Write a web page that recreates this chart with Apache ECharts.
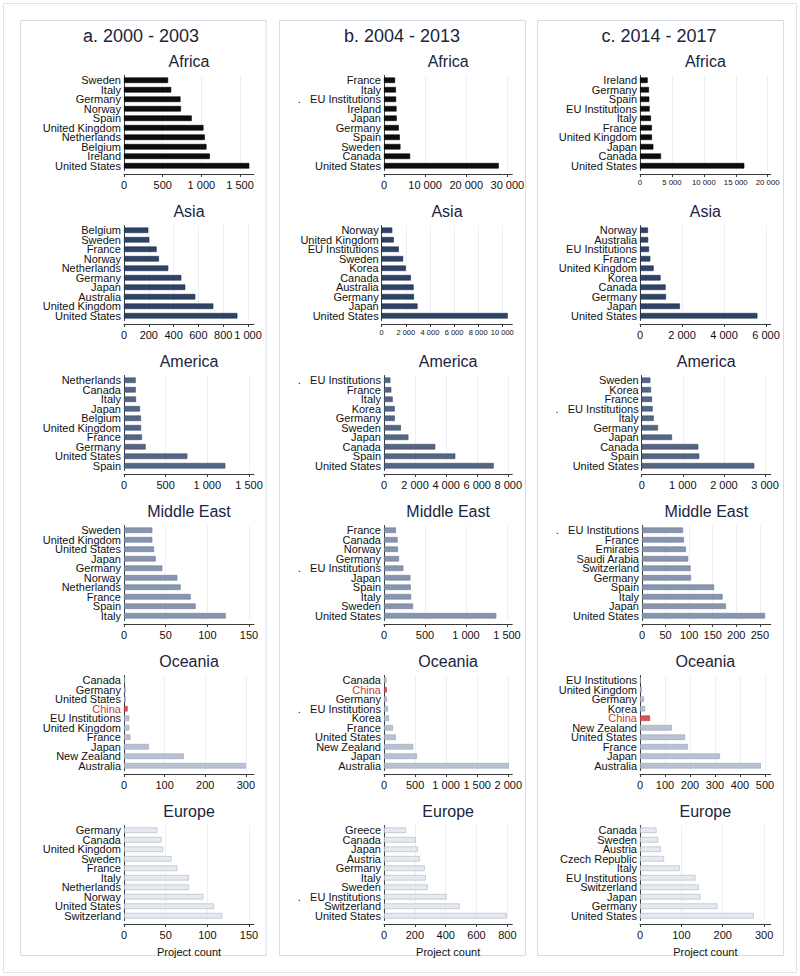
<!DOCTYPE html>
<html><head><meta charset="utf-8">
<script src="https://cdn.jsdelivr.net/npm/echarts@6/dist/echarts.min.js"></script>
<style>html,body{margin:0;padding:0;background:#fff}#c{width:800px;height:976px}</style>
</head><body><div id="c"></div>
<script>
// ---------- DATA ----------
const periods = ['a. 2000 - 2003', 'b. 2004 - 2013', 'c. 2014 - 2017'];
const regions = ['Africa', 'Asia', 'America', 'Middle East', 'Oceania', 'Europe'];
const axisTitle = 'Project count';

// a. 2000 - 2003
const africaA_cats = ['Sweden','Italy','Germany','Norway','Spain','United Kingdom','Netherlands','Belgium','Ireland','United States'];
const africaA_vals = [570, 610, 730, 736, 875, 1027, 1044, 1066, 1110, 1619];
const africaA_ticks = [0, 500, 1000, 1500];
const asiaA_cats = ['Belgium','Sweden','France','Norway','Netherlands','Germany','Japan','Australia','United Kingdom','United States'];
const asiaA_vals = [196, 204, 263, 282, 357, 462, 494, 575, 720, 914];
const asiaA_ticks = [0, 200, 400, 600, 800, 1000];
const americaA_cats = ['Netherlands','Canada','Italy','Japan','Belgium','United Kingdom','France','Germany','United States','Spain'];
const americaA_vals = [140, 141, 144, 192, 204, 205, 216, 260, 760, 1216];
const americaA_ticks = [0, 500, 1000, 1500];
const mideastA_cats = ['Sweden','United Kingdom','United States','Japan','Germany','Norway','Netherlands','France','Spain','Italy'];
const mideastA_vals = [34, 34, 36, 38, 46, 64, 68, 80, 86, 122];
const mideastA_ticks = [0, 50, 100, 150];
const oceaniaA_cats = ['Canada','Germany','United States','China','EU Institutions','United Kingdom','France','Japan','New Zealand','Australia'];
const oceaniaA_vals = [3, 5, 5, 9, 13, 13, 16, 61, 147, 300];
const oceaniaA_ticks = [0, 100, 200, 300];
const europeA_cats = ['Germany','Canada','United Kingdom','Sweden','France','Italy','Netherlands','Norway','United States','Switzerland'];
const europeA_vals = [40, 45, 47, 57, 64, 78, 78, 95, 108, 118];
const europeA_ticks = [0, 50, 100, 150];

// b. 2004 - 2013
const africaB_cats = ['France','Italy','.   EU Institutions','Ireland','Japan','Germany','Spain','Sweden','Canada','United States'];
const africaB_vals = [2700, 2900, 2950, 3050, 3100, 3600, 3850, 4000, 6350, 27900];
const africaB_ticks = [0, 10000, 20000, 30000];
const asiaB_cats = ['Norway','United Kingdom','EU Institutions','Sweden','Korea','Canada','Australia','Germany','Japan','United States'];
const asiaB_vals = [880, 1000, 1420, 1780, 2000, 2420, 2650, 2680, 2970, 10450];
const asiaB_ticks = [0, 2000, 4000, 6000, 8000, 10000];
const americaB_cats = ['.   EU Institutions','France','Italy','Korea','Germany','Sweden','Japan','Canada','Spain','United States'];
const americaB_vals = [410, 470, 560, 690, 700, 1090, 1570, 3300, 4590, 7060];
const americaB_ticks = [0, 2000, 4000, 6000, 8000];
const mideastB_cats = ['France','Canada','Norway','Germany','.   EU Institutions','Japan','Spain','Italy','Sweden','United States'];
const mideastB_vals = [146, 166, 171, 183, 236, 322, 326, 330, 354, 1370];
const mideastB_ticks = [0, 500, 1000, 1500];
const oceaniaB_cats = ['Canada','China','Germany','.   EU Institutions','Korea','France','United States','New Zealand','Japan','Australia'];
const oceaniaB_vals = [40, 45, 50, 65, 80, 145, 190, 470, 530, 2010];
const oceaniaB_ticks = [0, 500, 1000, 1500, 2000];
const europeB_cats = ['Greece','Canada','Japan','Austria','Germany','Italy','Sweden','.   EU Institutions','Switzerland','United States'];
const europeB_vals = [142, 206, 219, 232, 264, 271, 284, 406, 490, 795];
const europeB_ticks = [0, 200, 400, 600, 800];

// c. 2014 - 2017
const africaC_cats = ['Ireland','Germany','Spain','EU Institutions','Italy','France','United Kingdom','Japan','Canada','United States'];
const africaC_vals = [1200, 1410, 1460, 1510, 1720, 1860, 1880, 2090, 3290, 16340];
const africaC_ticks = [0, 5000, 10000, 15000, 20000];
const asiaC_cats = ['Norway','Australia','EU Institutions','France','United Kingdom','Korea','Canada','Germany','Japan','United States'];
const asiaC_vals = [380, 390, 430, 490, 650, 980, 1220, 1240, 1900, 5590];
const asiaC_ticks = [0, 2000, 4000, 6000];
const americaC_cats = ['Sweden','Korea','France','.   EU Institutions','Italy','Germany','Japan','Canada','Spain','United States'];
const americaC_vals = [211, 227, 251, 268, 292, 397, 737, 1378, 1402, 2740];
const americaC_ticks = [0, 1000, 2000, 3000];
const mideastC_cats = ['.   EU Institutions','France','Emirates','Saudi Arabia','Switzerland','Germany','Spain','Italy','Japan','United States'];
const mideastC_vals = [87, 89, 93, 98, 103, 104, 153, 171, 178, 261];
const mideastC_ticks = [0, 50, 100, 150, 200, 250];
const oceaniaC_cats = ['EU Institutions','United Kingdom','Germany','Korea','China','New Zealand','United States','France','Japan','Australia'];
const oceaniaC_vals = [4, 8, 16, 20, 40, 128, 180, 192, 320, 484];
const oceaniaC_ticks = [0, 100, 200, 300, 400, 500];
const europeC_cats = ['Canada','Sweden','Austria','Czech Republic','Italy','EU Institutions','Switzerland','Japan','Germany','United States'];
const europeC_vals = [40, 44, 50, 58, 96, 134, 142, 146, 187, 275];
const europeC_ticks = [0, 100, 200, 300];

// axis ranges (upper end of each x axis)
const axisMaxA = [1680, 1048, 1560, 156, 320, 156];
const axisMaxB = [31200, 10830, 8257, 1565, 2065, 832];
const axisMaxC = [20475, 6224, 3139, 273, 523, 316];

// ---------- TABLE ----------
const columns = [
  [[africaA_cats, africaA_vals, africaA_ticks],[asiaA_cats, asiaA_vals, asiaA_ticks],[americaA_cats, americaA_vals, americaA_ticks],
   [mideastA_cats, mideastA_vals, mideastA_ticks],[oceaniaA_cats, oceaniaA_vals, oceaniaA_ticks],[europeA_cats, europeA_vals, europeA_ticks]],
  [[africaB_cats, africaB_vals, africaB_ticks],[asiaB_cats, asiaB_vals, asiaB_ticks],[americaB_cats, americaB_vals, americaB_ticks],
   [mideastB_cats, mideastB_vals, mideastB_ticks],[oceaniaB_cats, oceaniaB_vals, oceaniaB_ticks],[europeB_cats, europeB_vals, europeB_ticks]],
  [[africaC_cats, africaC_vals, africaC_ticks],[asiaC_cats, asiaC_vals, asiaC_ticks],[americaC_cats, americaC_vals, americaC_ticks],
   [mideastC_cats, mideastC_vals, mideastC_ticks],[oceaniaC_cats, oceaniaC_vals, oceaniaC_ticks],[europeC_cats, europeC_vals, europeC_ticks]]
];
const axisMax = [axisMaxA, axisMaxB, axisMaxC];

// ---------- LAYOUT / STYLE ----------
const FONT = '"Liberation Sans", Arial, Helvetica, sans-serif';
const panelRect = [[20.5, 245.5], [279.5, 246], [537.5, 246]];
const panelTitleX = [141, 402, 659];
const axisLeft = [[124,124,124,124,124,124],[384,381.7,384,384,384,384],[640,640,641.7,642,640,640]];
const axisEnd = [254, 512.3, 770.7];
const smallTickFont = {'1-1': 7.5, '2-0': 7.8};
const regionColors = ['#0d0d0d', '#2e4366', '#556684', '#8895ae', '#b9c2d2', '#e5eaf1'];
const regionBorders = ['#000000', '#1f2f4d', '#3e4d69', '#6d7a93', '#97a2b6', '#a9b2c1'];
const chinaColor = '#d9544f';
const textColor = '#111111';
const titleColor = '#1b2440';

function fmt(v) { return String(v).replace(/\B(?=(\d{3})+(?!\d))/g, ' '); }

const grid = [], xAxis = [], yAxis = [], series = [], graphic = [];

graphic.push({type:'rect', silent:true, shape:{x:3.5, y:3.5, width:793, height:969}, style:{fill:'none', stroke:'#dfe3ea', lineWidth:1}});

columns.forEach((col, c) => {
  graphic.push({type:'rect', silent:true, shape:{x:panelRect[c][0], y:20.5, width:panelRect[c][1], height:935}, style:{fill:'none', stroke:'#d6dce6', lineWidth:1}});
  graphic.push({type:'text', silent:true, x:panelTitleX[c], y:36, style:{text:periods[c], fill:titleColor, font:'18px ' + FONT, align:'center', verticalAlign:'middle'}});
  col.forEach((chart, r) => {
    const [cats, vals, ticks] = chart;
    const i = grid.length;
    const L = axisLeft[c][r], E = axisEnd[c];
    const top = 75.5 + 150 * r;
    grid.push({left: L, top: top, width: E - L, height: 95});
    graphic.push({type:'text', silent:true, x:(L + E) / 2, y:61.7 + 150 * r, style:{text:regions[r], fill:titleColor, font:'16px ' + FONT, align:'center', verticalAlign:'middle'}});
    const tf = smallTickFont[c + '-' + r] || 11;
    const step = ticks[1] - ticks[0];
    xAxis.push({
      gridIndex: i, type: 'value', min: 0, max: axisMax[c][r], interval: step, offset: 3.5,
      axisLine: {show: true, onZero: false, lineStyle: {color: '#3a3a3a', width: 1}},
      axisTick: {show: true, length: 3, customValues: ticks, lineStyle: {color: '#3a3a3a'}},
      axisLabel: {customValues: ticks, fontSize: tf, lineHeight: tf, fontFamily: FONT, color: textColor, margin: 5,
        showMinLabel: true, showMaxLabel: true,
        formatter: v => (ticks.indexOf(v) >= 0 ? fmt(v) : '')},
      splitLine: {show: true, lineStyle: {color: '#eceff4', width: 1}},
      name: r === 5 ? axisTitle : '', nameLocation: 'middle', nameGap: 22,
      nameTextStyle: {fontSize: 11, lineHeight: 11, fontFamily: FONT, color: textColor}
    });
    yAxis.push({
      gridIndex: i, type: 'category', data: cats, inverse: true,
      axisLine: {show: true, lineStyle: {color: '#3a3a3a', width: 1}},
      axisTick: {show: false},
      axisLabel: {interval: 0, fontSize: 11, lineHeight: 9, fontFamily: FONT, color: textColor, margin: 3,
        formatter: v => (v === 'China' ? '{red|China}' : v),
        rich: {red: {color: '#cc3a36', fontSize: 11, lineHeight: 9, fontFamily: FONT}}},
      splitLine: {show: false}
    });
    series.push({
      type: 'bar', xAxisIndex: i, yAxisIndex: i, barWidth: '58%', silent: true,
      itemStyle: {color: regionColors[r], borderColor: regionBorders[r], borderWidth: 0.6},
      data: vals.map((v, k) => cats[k] === 'China'
        ? {value: v, itemStyle: {color: chinaColor, borderColor: '#b83a36'}}
        : v)
    });
  });
});

const chart = echarts.init(document.getElementById('c'), null, {renderer: 'svg'});
chart.setOption({animation: false, backgroundColor: '#ffffff', textStyle: {fontFamily: FONT},
  grid, xAxis, yAxis, series, graphic});
</script>
</body></html>
